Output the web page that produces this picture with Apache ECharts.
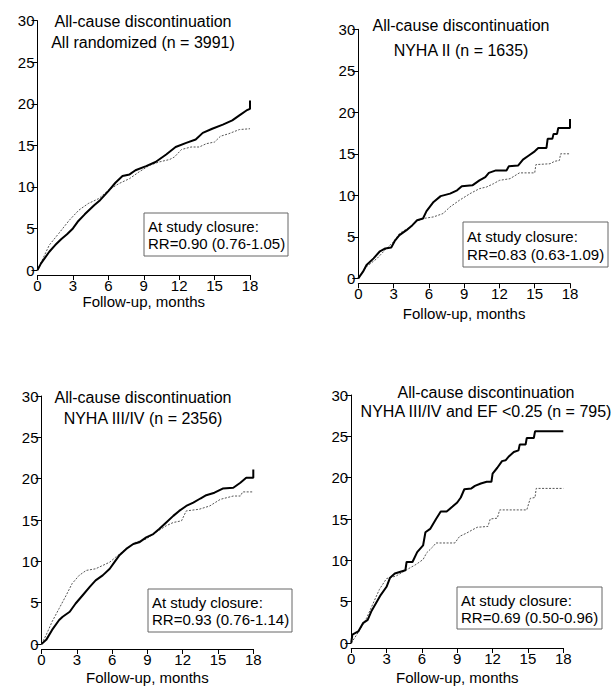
<!DOCTYPE html>
<html>
<head>
<meta charset="utf-8">
<script src="https://cdn.jsdelivr.net/npm/echarts@6/dist/echarts.min.js"></script>
<style>
html,body{margin:0;padding:0;background:#fff;}
#chart{width:616px;height:686px;}
</style>
</head>
<body>
<div id="chart"></div>
<script>
// ---- Data ----
const xTicks = [0, 3, 6, 9, 12, 15, 18];
const yTicks = [0, 5, 10, 15, 20, 25, 30];

const panelTitles = [
  "All-cause discontinuation\nAll randomized (n = 3991)",
  "All-cause discontinuation\nNYHA II (n = 1635)",
  "All-cause discontinuation\nNYHA III/IV (n = 2356)",
  "All-cause discontinuation\nNYHA III/IV and EF <0.25 (n = 795)"
];
const boxLine1 = "At study closure:";
const boxLine2 = [
  "RR=0.90 (0.76-1.05)",
  "RR=0.83 (0.63-1.09)",
  "RR=0.93 (0.76-1.14)",
  "RR=0.69 (0.50-0.96)"
];
const xName = "Follow-up, months";

// Panel 1: All randomized
const p1SolidX = [0,0.3,1.0,1.5,2.0,2.5,3.0,3.4,4.0,4.8,5.3,6.0,6.6,7.2,7.8,8.3,9.2,10.0,10.9,11.7,12.6,13.4,14.0,14.8,15.7,16.5,17.1,17.7,18.0,18.0];
const p1SolidY = [0,0.8,2.2,3.0,3.7,4.3,5.0,5.8,6.7,7.8,8.4,9.5,10.5,11.3,11.5,12.0,12.5,13.0,13.9,14.8,15.3,15.7,16.5,17.0,17.5,18.0,18.6,19.2,19.4,20.4];
const p1DotX = [0,0.4,1.0,1.8,2.7,3.5,4.3,5.2,6.0,6.9,7.8,8.6,9.5,10.3,11.2,11.6,12.2,13.0,13.7,14.3,15.0,15.5,16.2,17.1,18.0];
const p1DotY = [0,1.2,3.0,4.4,6.0,7.2,8.0,8.6,9.6,10.4,11.0,11.8,12.6,13.0,13.3,13.6,14.5,14.8,14.8,15.2,15.4,16.1,16.4,16.9,17.0];

// Panel 2: NYHA II
const p2SolidX = [0,0.4,0.7,1.3,1.8,2.3,2.8,3.1,3.5,4.1,4.6,5.0,5.5,5.8,6.4,7.0,7.8,8.4,8.8,9.7,10.3,10.8,11.1,11.7,12.6,12.8,13.6,14.0,14.5,15.0,15.3,16.0,16.1,16.5,16.6,16.9,17.0,18.0,18.0];
const p2SolidY = [0,0.8,1.6,2.4,3.2,3.6,3.7,4.5,5.2,5.8,6.4,7.0,7.2,8.1,9.2,9.9,10.2,10.6,11.1,11.2,11.8,12.2,12.7,13.0,13.0,13.5,13.6,14.3,14.8,15.3,15.7,15.7,16.8,16.8,17.4,17.4,18.1,18.1,19.2];
const p2DotX = [0,0.7,1.6,2.4,3.0,3.5,4.4,5.0,5.5,6.4,7.2,7.8,8.6,9.5,10.3,10.9,11.5,12.0,12.9,13.7,15.0,15.1,16.3,16.7,17.1,17.2,18.0];
const p2DotY = [0,1.4,2.4,3.6,4.4,5.4,6.2,6.9,7.2,7.4,7.8,8.6,9.4,10.2,10.8,11.0,11.4,11.8,12.0,12.7,12.7,13.7,13.8,14.1,14.2,15.0,15.0];

// Panel 3: NYHA III/IV
const p3SolidX = [0,0.4,0.9,1.5,1.8,2.4,2.9,3.5,4.1,4.6,5.2,5.8,6.2,6.6,7.2,7.8,8.3,8.9,9.5,10.0,10.6,11.2,11.7,12.3,12.9,13.5,14.0,14.7,15.4,16.3,16.9,17.4,18.0,18.0];
const p3SolidY = [0,0.5,1.7,2.9,3.3,3.9,4.9,5.9,6.9,7.7,8.3,9.1,9.9,10.7,11.5,12.1,12.3,12.9,13.3,13.9,14.7,15.5,16.1,16.7,17.1,17.6,18.0,18.3,18.8,18.9,19.5,20.1,20.1,21.1];
const p3DotX = [0,0.4,0.9,1.5,2.1,2.6,3.2,3.8,4.6,5.2,5.8,6.3,7.2,8.0,8.9,9.7,10.6,11.2,11.9,12.3,13.4,14.3,15.2,16.3,16.9,17.1,18.0];
const p3DotY = [0,1.1,2.7,4.3,5.9,7.3,8.3,8.9,9.1,9.5,9.9,10.5,11.5,12.3,12.7,13.5,14.3,14.7,14.9,16.1,16.3,16.7,17.5,17.9,17.9,18.4,18.4];

// Panel 4: NYHA III/IV and EF < 0.25
const p4SolidX = [0,0.1,0.6,1.0,1.4,1.7,2.1,2.5,3.0,3.3,3.7,4.6,4.7,5.2,5.6,6.1,6.3,6.7,7.2,7.6,8.1,8.6,9.0,9.3,9.6,10.2,10.5,11.0,11.5,11.9,12.0,12.4,12.8,13.1,13.4,13.8,14.2,14.3,14.8,14.9,15.5,15.6,18.0];
const p4SolidY = [0,1.0,1.4,2.4,2.8,3.8,4.8,5.8,6.8,7.9,8.4,8.8,9.8,9.8,11.0,11.8,13.4,13.8,15.0,15.9,15.9,16.5,17.0,17.6,18.6,18.7,19.0,19.3,19.5,19.5,20.5,21.2,22.0,22.1,22.6,23.1,23.3,24.0,24.0,24.8,24.8,25.6,25.6];
const p4DotX = [0,0.7,1.3,1.8,2.4,3.0,3.8,4.4,5.0,5.5,6.1,6.4,6.9,7.2,8.8,9.2,9.8,10.3,10.7,11.6,11.8,12.4,12.6,14.9,15.2,15.6,15.7,18.0];
const p4DotY = [0,1.5,3.0,4.6,6.5,7.8,8.1,8.6,9.1,9.5,10.1,10.9,11.6,12.1,12.1,12.9,13.3,13.7,14.0,14.1,15.0,15.1,16.1,16.1,17.5,17.6,18.7,18.7];

// ---- Layout ----
const FONT = "'Liberation Sans', Arial, Helvetica, sans-serif";
const grids = [
  {left: 37.5, top: 20.7, width: 212.5, height: 249.3},
  {left: 358.3, top: 29.3, width: 211.7, height: 249},
  {left: 41.5, top: 396, width: 211.8, height: 249.7},
  {left: 351.2, top: 395, width: 212.1, height: 248.3}
];
const nameGaps = [17, 23, 21, 22];
const titlePos = [
  {x: 143, y1: 21, y2: 42},
  {x: 461, y1: 25, y2: 50},
  {x: 143, y1: 397, y2: 418},
  {x: 486, y1: 392, y2: 411}
];
const boxes = [
  {x: 144, y: 213, w: 144, h: 43},
  {x: 463, y: 222, w: 145, h: 45},
  {x: 148, y: 589, w: 144, h: 43},
  {x: 457, y: 587, w: 145, h: 42}
];

const zip = (xs, ys) => xs.map((x, i) => [x, ys[i]]);
const solid = [zip(p1SolidX,p1SolidY), zip(p2SolidX,p2SolidY), zip(p3SolidX,p3SolidY), zip(p4SolidX,p4SolidY)];
const dotted = [zip(p1DotX,p1DotY), zip(p2DotX,p2DotY), zip(p3DotX,p3DotY), zip(p4DotX,p4DotY)];

const xAxes = grids.map((g, i) => ({
  type: 'value', gridIndex: i, min: xTicks[0], max: xTicks[xTicks.length-1], interval: 3,
  offset: 5,
  axisLine: {show: true, onZero: false, lineStyle: {color: '#000', width: 1}},
  axisTick: {show: true, length: 5, lineStyle: {color: '#000'}},
  axisLabel: {color: '#000', fontSize: 15, fontFamily: FONT, margin: 3},
  splitLine: {show: false},
  name: xName, nameLocation: 'middle', nameGap: nameGaps[i],
  nameTextStyle: {color: '#000', fontSize: 15, fontFamily: FONT}
}));
const yAxes = grids.map((g, i) => ({
  type: 'value', gridIndex: i, min: yTicks[0], max: yTicks[yTicks.length-1], interval: 5,
  axisLine: {show: true, lineStyle: {color: '#000', width: 1}},
  axisTick: {show: true, length: 6, lineStyle: {color: '#000'}},
  axisLabel: {color: '#000', fontSize: 15, fontFamily: FONT, margin: 3},
  splitLine: {show: false}
}));

const series = [];
for (let i = 0; i < 4; i++) {
  series.push({
    type: 'line', xAxisIndex: i, yAxisIndex: i, data: dotted[i], showSymbol: false,
    symbol: 'none', silent: true, animation: false,
    lineStyle: {color: '#555', width: 1, type: [2, 1.5]}
  });
  series.push({
    type: 'line', xAxisIndex: i, yAxisIndex: i, data: solid[i], showSymbol: false,
    symbol: 'none', silent: true, animation: false,
    lineStyle: {color: '#000', width: 2}
  });
}

const graphics = [];
panelTitles.forEach((t, i) => {
  const lines = t.split('\n');
  const p = titlePos[i];
  graphics.push({type: 'text', x: p.x, y: p.y1, style: {text: lines[0], fill: '#000', font: '16px ' + FONT, textAlign: 'center', textVerticalAlign: 'middle'}});
  graphics.push({type: 'text', x: p.x, y: p.y2, style: {text: lines[1], fill: '#000', font: '16px ' + FONT, textAlign: 'center', textVerticalAlign: 'middle'}});
});
boxes.forEach((b, i) => {
  graphics.push({type: 'rect', shape: {x: b.x, y: b.y, width: b.w, height: b.h}, style: {fill: '#fff', stroke: '#666', lineWidth: 1}});
  graphics.push({type: 'text', x: b.x + 4, y: b.y + b.h * 0.32, style: {text: boxLine1, fill: '#000', font: '15px ' + FONT, textAlign: 'left', textVerticalAlign: 'middle'}});
  graphics.push({type: 'text', x: b.x + 4, y: b.y + b.h * 0.72, style: {text: boxLine2[i], fill: '#000', font: '15px ' + FONT, textAlign: 'left', textVerticalAlign: 'middle'}});
});

const chart = echarts.init(document.getElementById('chart'), null, {renderer: 'svg'});
chart.setOption({
  backgroundColor: '#fff',
  animation: false,
  grid: grids.map(g => Object.assign({containLabel: false}, g)),
  xAxis: xAxes,
  yAxis: yAxes,
  series: series,
  graphic: graphics
});
</script>
</body>
</html>
